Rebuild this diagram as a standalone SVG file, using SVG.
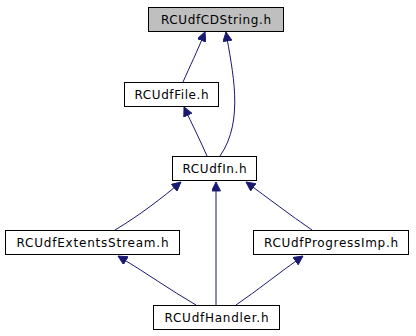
<svg xmlns="http://www.w3.org/2000/svg" width="416" height="336" viewBox="0 0 416 336">
  <defs>
    <marker id="arrow" viewBox="0 0 10 10" refX="10" refY="5" markerWidth="10" markerHeight="9" markerUnits="userSpaceOnUse" orient="auto">
      <path d="M0,0 L10,5 L0,10 z" fill="#191970" stroke="#191970"/>
    </marker>
  </defs>
  <style>
    .node rect { fill: #ffffff; stroke: #000000; stroke-width: 1; }
    .node.root rect { fill: #bfbfbf; }
    .node text { font-family: "DejaVu Sans", sans-serif; font-size: 12px; fill: #000000; text-anchor: middle; }
    .edges path { fill: none; stroke: #191970; stroke-width: 1; marker-end: url(#arrow); }
  </style>
  <rect width="416" height="336" fill="#ffffff"/>
  <g class="edges">
    <path d="M183,82 C190,66 197,52 205,32"/>
    <path d="M220,156 C245,120 232,70 226,32"/>
    <path d="M207,156 C200,140 192,124 184,107"/>
    <path d="M115,230 C140,215 162,198 181,182"/>
    <path d="M216,305 L216,182"/>
    <path d="M312,230 C290,215 268,198 246,182"/>
    <path d="M196,305 C170,290 145,272 118,256"/>
    <path d="M236,305 C258,290 280,272 303,256"/>
  </g>
  <g id="node-cdstring" class="node root">
    <rect x="148.5" y="7.5" width="135" height="24"/>
    <text x="216" y="24" textLength="110" lengthAdjust="spacing">RCUdfCDString.h</text>
  </g>
  <g id="node-file" class="node">
    <rect x="124.5" y="82.5" width="94" height="24"/>
    <text x="171.5" y="99" textLength="74" lengthAdjust="spacing">RCUdfFile.h</text>
  </g>
  <g id="node-in" class="node">
    <rect x="172.5" y="156.5" width="84" height="24"/>
    <text x="214.5" y="173" textLength="64" lengthAdjust="spacing">RCUdfIn.h</text>
  </g>
  <g id="node-extents" class="node">
    <rect x="5.5" y="230.5" width="174" height="24"/>
    <text x="92.5" y="247" textLength="152" lengthAdjust="spacing">RCUdfExtentsStream.h</text>
  </g>
  <g id="node-progress" class="node">
    <rect x="253.5" y="230.5" width="155" height="24"/>
    <text x="331" y="247" textLength="134" lengthAdjust="spacing">RCUdfProgressImp.h</text>
  </g>
  <g id="node-handler" class="node">
    <rect x="153.5" y="305.5" width="126" height="24"/>
    <text x="216.5" y="322" textLength="104" lengthAdjust="spacing">RCUdfHandler.h</text>
  </g>
</svg>
